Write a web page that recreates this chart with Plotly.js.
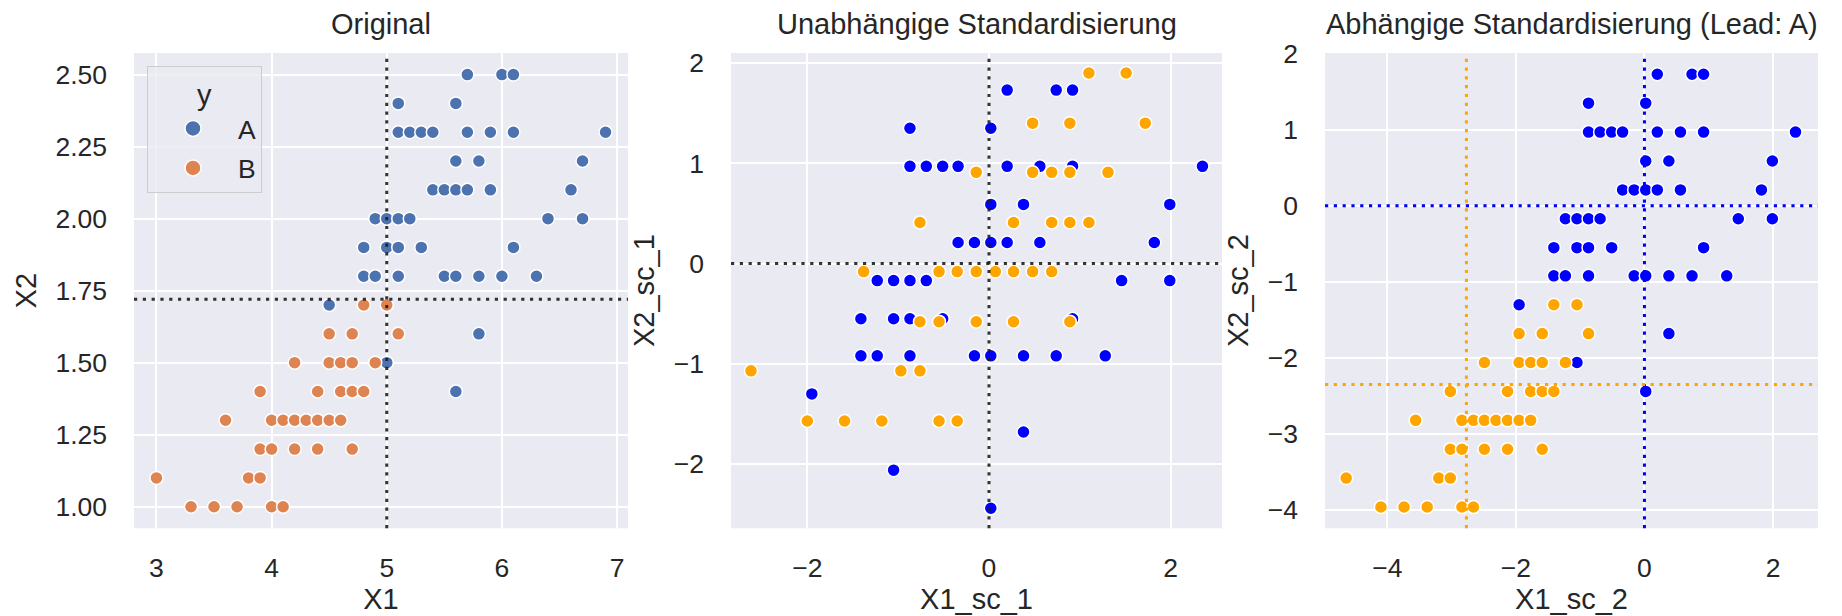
<!DOCTYPE html>
<html>
<head>
<meta charset="utf-8">
<script src="https://cdn.plot.ly/plotly-3.0.1.min.js"></script>
<style>html,body{margin:0;padding:0;background:#ffffff;}</style>
</head>
<body>
<div id="chart" style="width:1842px;height:616px;"></div>
<script>
// ---------- Data ----------
// Panel 1: Original
const A_X1 = [5.7,6.0,6.1, 5.1,5.6, 5.1,5.2,5.3,5.4,5.7,5.9,6.1,6.9, 5.6,5.8,6.7,
              5.4,5.5,5.6,5.7,5.9,6.6, 4.9,5.0,5.1,5.2,6.4,6.7, 4.8,5.0,5.1,5.3,6.1,
              4.8,4.9,5.1,5.5,5.6,5.8,6.0,6.3, 4.5, 5.8, 5.0, 5.6];
const A_X2 = [2.5,2.5,2.5, 2.4,2.4, 2.3,2.3,2.3,2.3,2.3,2.3,2.3,2.3, 2.2,2.2,2.2,
              2.1,2.1,2.1,2.1,2.1,2.1, 2.0,2.0,2.0,2.0,2.0,2.0, 1.9,1.9,1.9,1.9,1.9,
              1.8,1.8,1.8,1.8,1.8,1.8,1.8,1.8, 1.7, 1.6, 1.5, 1.4];
const B_X1 = [4.8,5.0, 4.5,4.7,5.1, 4.2,4.5,4.6,4.7,4.9, 3.9,4.4,4.6,4.7,4.8,
              3.6,4.0,4.1,4.2,4.3,4.4,4.5,4.6, 3.9,4.0,4.2,4.4,4.7, 3.0,3.8,3.9,
              3.3,3.5,3.7,4.0,4.1];
const B_X2 = [1.7,1.7, 1.6,1.6,1.6, 1.5,1.5,1.5,1.5,1.5, 1.4,1.4,1.4,1.4,1.4,
              1.3,1.3,1.3,1.3,1.3,1.3,1.3,1.3, 1.2,1.2,1.2,1.2,1.2, 1.1,1.1,1.1,
              1.0,1.0,1.0,1.0,1.0];
const mean_X1 = 5.0;
const mean_X2 = 1.72;

// Panel 2: independent standardisation (A also reused as lead in panel 3)
const A_X1_sc = [0.20,0.74,0.92, -0.87,0.02, -0.87,-0.69,-0.51,-0.34,0.20,0.56,0.92,2.35, 0.02,0.38,1.99,
                 -0.34,-0.16,0.02,0.20,0.56,1.82, -1.23,-1.05,-0.87,-0.69,1.46,1.99, -1.41,-1.05,-0.87,-0.51,0.92,
                 -1.41,-1.23,-0.87,-0.16,0.02,0.38,0.74,1.28, -1.95, 0.38, -1.05, 0.02];
const A_X2_sc = [1.73,1.73,1.73, 1.35,1.35, 0.97,0.97,0.97,0.97,0.97,0.97,0.97,0.97, 0.59,0.59,0.59,
                 0.21,0.21,0.21,0.21,0.21,0.21, -0.17,-0.17,-0.17,-0.17,-0.17,-0.17, -0.55,-0.55,-0.55,-0.55,-0.55,
                 -0.92,-0.92,-0.92,-0.92,-0.92,-0.92,-0.92,-0.92, -1.30, -1.68, -2.06, -2.44];
const B_X1_sc1 = [1.10,1.51, 0.48,0.89,1.72, -0.14,0.48,0.69,0.89,1.31, -0.76,0.27,0.69,0.89,1.10,
                  -1.38,-0.55,-0.35,-0.14,0.07,0.27,0.48,0.69, -0.76,-0.55,-0.14,0.27,0.89, -2.62,-0.97,-0.76,
                  -2.00,-1.59,-1.18,-0.55,-0.35];
const B_X2_sc1 = [1.90,1.90, 1.40,1.40,1.40, 0.91,0.91,0.91,0.91,0.91, 0.41,0.41,0.41,0.41,0.41,
                  -0.08,-0.08,-0.08,-0.08,-0.08,-0.08,-0.08,-0.08, -0.58,-0.58,-0.58,-0.58,-0.58, -1.07,-1.07,-1.07,
                  -1.57,-1.57,-1.57,-1.57,-1.57];

// Panel 3: dependent standardisation (Lead: A)
const B_X1_sc2 = [-1.41,-1.05, -1.95,-1.59,-0.87, -2.49,-1.95,-1.77,-1.59,-1.23, -3.02,-2.13,-1.77,-1.59,-1.41,
                  -3.56,-2.84,-2.66,-2.49,-2.31,-2.13,-1.95,-1.77, -3.02,-2.84,-2.49,-2.13,-1.59, -4.64,-3.20,-3.02,
                  -4.10,-3.74,-3.38,-2.84,-2.66];
const B_X2_sc2 = [-1.30,-1.30, -1.68,-1.68,-1.68, -2.06,-2.06,-2.06,-2.06,-2.06, -2.44,-2.44,-2.44,-2.44,-2.44,
                  -2.82,-2.82,-2.82,-2.82,-2.82,-2.82,-2.82,-2.82, -3.20,-3.20,-3.20,-3.20,-3.20, -3.58,-3.58,-3.58,
                  -3.96,-3.96,-3.96,-3.96,-3.96];
const leadA_line = 0.0;
const B_line_v = -2.77;
const B_line_h = -2.35;

const titles = ['Original', 'Unabhängige Standardisierung', 'Abhängige Standardisierung (Lead: A)'];
const classes = ['A', 'B'];

// ---------- Style ----------
const FONT = 'Liberation Sans, Arial, Helvetica, sans-serif';
const TXT = '#262626';
const TICK = 26.5, LAB = 29;
const W = 1842, H = 616;
const xd = [[134/W, 628/W], [731/W, 1222/W], [1325/W, 1818/W]];
const yd = [1 - 528.3/H, 1 - 53/H];
const C1 = ['#4C72B0', '#DD8452'];

function mk(color, size){ return {color: color, size: size || 13, line: {color: 'white', width: 1.5}}; }

const traces = [
  {x: A_X1, y: A_X2, xaxis: 'x', yaxis: 'y', type: 'scatter', mode: 'markers', name: classes[0],
   marker: mk(C1[0]), showlegend: false},
  {x: B_X1, y: B_X2, xaxis: 'x', yaxis: 'y', type: 'scatter', mode: 'markers', name: classes[1],
   marker: mk(C1[1]), showlegend: false},
  {x: A_X1_sc, y: A_X2_sc, xaxis: 'x2', yaxis: 'y2', type: 'scatter', mode: 'markers', name: classes[0],
   marker: mk('blue'), showlegend: false},
  {x: B_X1_sc1, y: B_X2_sc1, xaxis: 'x2', yaxis: 'y2', type: 'scatter', mode: 'markers', name: classes[1],
   marker: mk('orange'), showlegend: false},
  {x: A_X1_sc, y: A_X2_sc, xaxis: 'x3', yaxis: 'y3', type: 'scatter', mode: 'markers', name: classes[0],
   marker: mk('blue'), showlegend: false},
  {x: B_X1_sc2, y: B_X2_sc2, xaxis: 'x3', yaxis: 'y3', type: 'scatter', mode: 'markers', name: classes[1],
   marker: mk('orange'), showlegend: false},
  // legend entries (hue legend of the first panel)
  {x: [null], y: [null], xaxis: 'x', yaxis: 'y', type: 'scatter', mode: 'markers', name: classes[0],
   marker: mk(C1[0], 16), legendgroup: 'A', showlegend: true},
  {x: [null], y: [null], xaxis: 'x', yaxis: 'y', type: 'scatter', mode: 'markers', name: classes[1],
   marker: mk(C1[1], 16), legendgroup: 'B', showlegend: true}
];

function ax(domain, range, dtick, tick0, fmt, title, anchor, isY){
  return {
    domain: domain, range: range, dtick: dtick, tick0: tick0, tickformat: fmt,
    showgrid: true, gridcolor: '#ffffff', gridwidth: 2, zeroline: false, showline: false,
    ticks: '', ticklabelstandoff: isY ? 26 : 21,
    tickfont: {family: FONT, size: TICK, color: TXT},
    title: {text: title, font: {family: FONT, size: LAB, color: TXT}, standoff: isY ? 10 : 6},
    anchor: anchor, fixedrange: true
  };
}

const DASH = '3.2px,5.6px';
function vline(xref, yref, x, color){
  return {type: 'line', xref: xref, yref: yref + ' domain', x0: x, x1: x, y0: 0, y1: 1,
          line: {color: color, width: 3, dash: DASH}, layer: 'above'};
}
function hline(xref, yref, y, color){
  return {type: 'line', xref: xref + ' domain', yref: yref, x0: 0, x1: 1, y0: y, y1: y,
          line: {color: color, width: 3, dash: DASH}, layer: 'above'};
}
const BLK = 'rgba(30,30,30,0.9)';

const annotations = titles.map((t, i) => ({
  text: t, xref: 'paper', yref: 'paper', x: (xd[i][0] + xd[i][1]) / 2, y: 1 - 24/H,
  xanchor: 'center', yanchor: 'middle', showarrow: false,
  font: {family: FONT, size: LAB, color: TXT}
}));

const layout = {
  width: W, height: H,
  margin: {l: 0, r: 0, t: 0, b: 0},
  paper_bgcolor: '#ffffff', plot_bgcolor: '#EAEAF2',
  font: {family: FONT, color: TXT},
  xaxis:  ax(xd[0], [2.805, 7.095], 1, 0, '', 'X1', 'y', false),
  yaxis:  ax(yd, [0.925, 2.575], 0.25, 1.0, '.2f', 'X2', 'x', true),
  xaxis2: ax(xd[1], [-2.84, 2.565], 2, 0, '', 'X1_sc_1', 'y2', false),
  yaxis2: ax(yd, [-2.64, 2.10], 1, 0, '', 'X2_sc_1', 'x2', true),
  xaxis3: ax(xd[2], [-4.97, 2.70], 2, 0, '', 'X1_sc_2', 'y3', false),
  yaxis3: ax(yd, [-4.24, 2.01], 1, 0, '', 'X2_sc_2', 'x3', true),
  shapes: [
    vline('x', 'y', mean_X1, BLK), hline('x', 'y', mean_X2, BLK),
    vline('x2', 'y2', 0, BLK), hline('x2', 'y2', 0, BLK),
    vline('x3', 'y3', leadA_line, 'blue'), hline('x3', 'y3', leadA_line, 'blue'),
    vline('x3', 'y3', B_line_v, 'orange'), hline('x3', 'y3', B_line_h, 'orange')
  ],
  annotations: annotations,
  showlegend: true,
  legend: {
    x: 147/W, y: 1 - 66/H, xanchor: 'left', yanchor: 'top',
    bgcolor: 'rgba(234,234,242,0.8)', bordercolor: '#cccccc', borderwidth: 1,
    font: {family: FONT, size: TICK, color: TXT},
    title: {text: 'y', side: 'top center', font: {family: FONT, size: LAB, color: TXT}},
    itemwidth: 80, traceorder: 'grouped', tracegroupgap: 2, itemclick: false, itemdoubleclick: false
  },
  hovermode: false
};

Plotly.newPlot('chart', traces, layout, {staticPlot: true, displayModeBar: false});
</script>
</body>
</html>
